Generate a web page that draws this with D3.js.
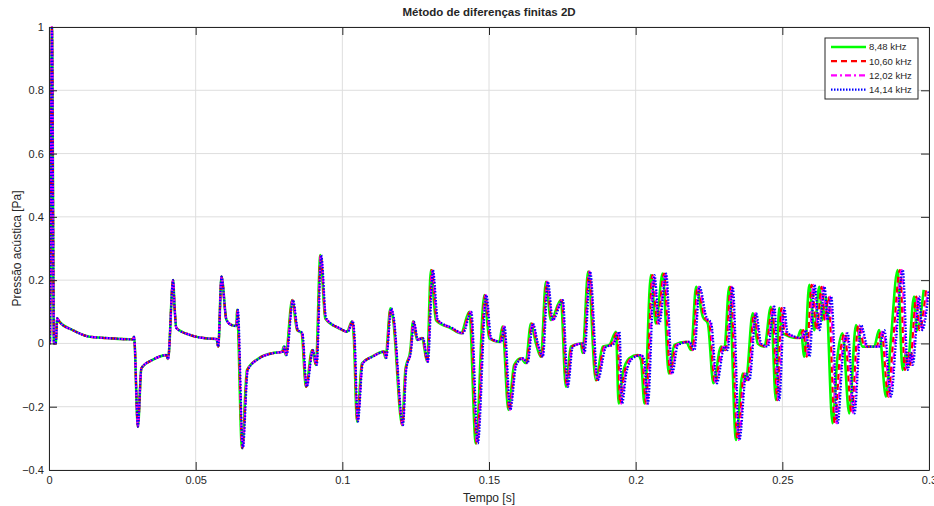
<!DOCTYPE html>
<html>
<head>
<meta charset="utf-8">
<title>Método de diferenças finitas 2D</title>
<style>
  body { margin: 0; padding: 0; background: #fff; }
  text { font-family: "Liberation Sans", Arial, sans-serif; fill: #262626; }
</style>
</head>
<body>
<div id="chart"></div>
<script src="https://d3js.org/d3.v7.min.js"></script>
<script>
// pressure values (Pa), shared sample sequence
var pressao = [
  0, 0, 1.0, 0, 0, 0.079, 0.068, 0.042, 0.021, 0.017, 0.013, 0.021, -0.263, -0.078, -0.052, -0.037, -0.049, 0.2, 0.116, 0.049,
  0.027, 0.016, 0.014, -0.01, 0.211, 0.074, 0.058, 0.055,
  0.106, -0.331, -0.084, -0.047, -0.031, -0.026, -0.01, -0.037, 0.137, 0.042, 0.033, -0.137, -0.021, -0.068, 0.279, 0.079,
  0.048, 0.037, 0.07, 0.021, -0.247, -0.063, -0.042, -0.026, -0.046, 0.111, 0.084, -0.258, -0.084, -0.021, 0.069, 0.011,
  0.017, -0.058,
  0.232, 0.074, 0.048, 0.032, 0.1, -0.316, 0.153, 0.016, 0.005, 0.053, -0.21, -0.068, -0.047, -0.062, 0.063, 0, -0.042,
  0.195, 0.074, 0.137, -0.137, -0.01, 0, -0.03, 0.227, -0.116,
  -0.01, -0.005, 0.037, -0.19, -0.095, -0.047, -0.037, -0.052, -0.19, 0.216, 0.063, 0.221, -0.095, -0.005, 0.005, -0.021,
  0.179, 0.084, 0.063, -0.126, -0.01, -0.021, 0.179, -0.305, -0.095, -0.116, 0.095, 0, -0.01, 0.116, -0.179,
  0.112, 0.033, 0.017, 0.042, -0.042, 0.185, 0.042, 0.179, 0.074, 0.148, -0.252, -0.042, 0.032, -0.221, 0.058, -0.01,
  -0.01, 0.042, -0.168, 0.011, 0.232, -0.084, -0.03, -0.068, 0.148, 0.042, 0.169
];

// time (s) of the first samples, identical for every frequency
var tempoComum = [
  0, 0.0003, 0.001, 0.0017, 0.0023, 0.0028, 0.0036, 0.0081, 0.0139, 0.0197, 0.0285, 0.029, 0.0303, 0.0315, 0.0353, 0.04,
  0.0406, 0.0423, 0.0428, 0.0434, 0.048, 0.0536, 0.0571, 0.0577, 0.0588, 0.0605, 0.0622, 0.0639
];

// later samples drift apart with frequency
var tempo848 = [
  0.0641, 0.0658, 0.0675, 0.0715, 0.076, 0.0795, 0.08, 0.0807, 0.0829, 0.0846, 0.0861, 0.0876, 0.0897, 0.091, 0.0925, 0.0942,
  0.0988, 0.1016, 0.1033, 0.1039, 0.105, 0.1067, 0.1101, 0.1141, 0.1147, 0.1164, 0.1172, 0.1204, 0.1215, 0.1232, 0.1241, 0.1255,
  0.1272, 0.1289,
  0.1302, 0.1319, 0.137, 0.1404, 0.1433, 0.1455, 0.1484, 0.1501, 0.1535, 0.1546, 0.1566, 0.1586, 0.1609, 0.1625, 0.1643, 0.166,
  0.1677, 0.1694, 0.1711, 0.1745, 0.1762, 0.1779, 0.1813, 0.1819, 0.1838, 0.1864,
  0.1888, 0.191, 0.1933, 0.1942, 0.1956, 0.1978, 0.2007, 0.2018, 0.203, 0.2052, 0.2069, 0.2092, 0.2113, 0.2132, 0.2172, 0.2189,
  0.2206, 0.2229, 0.2246, 0.2265, 0.2291, 0.2302, 0.2319, 0.2342, 0.2365, 0.2376, 0.2399, 0.2416, 0.2439, 0.2461, 0.2478,
  0.2489, 0.25, 0.2551, 0.2563, 0.2575, 0.2592, 0.2609, 0.2626, 0.2637, 0.2649, 0.2671, 0.2688, 0.2705, 0.2728, 0.2751, 0.2773,
  0.2813, 0.283, 0.2853, 0.287, 0.2893, 0.291, 0.2921, 0.2927, 0.2949, 0.2959, 0.2982
];
var tempo1060 = [
  0.0642, 0.0659, 0.0676, 0.0716, 0.0761, 0.0796, 0.0801, 0.0808, 0.083, 0.0847, 0.0862, 0.0877, 0.0898, 0.0911, 0.0926, 0.0943,
  0.0989, 0.1017, 0.1034, 0.104, 0.1051, 0.1068, 0.1102, 0.1142, 0.1148, 0.1165, 0.1173, 0.1205, 0.1216, 0.1233, 0.1242, 0.1256,
  0.1273, 0.129,
  0.1305, 0.1322, 0.1373, 0.1407, 0.1436, 0.1458, 0.1487, 0.1504, 0.1538, 0.1549, 0.1569, 0.1589, 0.1612, 0.1628, 0.1646, 0.1663,
  0.168, 0.1697, 0.1714, 0.1748, 0.1765, 0.1782, 0.1816, 0.1822, 0.1841, 0.1867,
  0.1893, 0.1915, 0.1938, 0.1947, 0.1961, 0.1983, 0.2012, 0.2023, 0.2035, 0.2057, 0.2074, 0.2097, 0.2118, 0.2137, 0.2177, 0.2194,
  0.2211, 0.2234, 0.2251, 0.227, 0.2296, 0.2307, 0.2324, 0.2347, 0.237, 0.2381, 0.2404, 0.2421, 0.2444, 0.2466, 0.2483,
  0.2497, 0.2508, 0.2559, 0.2571, 0.2583, 0.26, 0.2617, 0.2634, 0.2645, 0.2657, 0.2679, 0.2696, 0.2713, 0.2736, 0.2759, 0.2781,
  0.2821, 0.2838, 0.2861, 0.2878, 0.2901, 0.2918, 0.2929, 0.2935, 0.2957, 0.2967, 0.299
];
var tempo1202 = [
  0.0643, 0.066, 0.0677, 0.0717, 0.0762, 0.0797, 0.0802, 0.0809, 0.0831, 0.0848, 0.0863, 0.0878, 0.0899, 0.0912, 0.0927, 0.0944,
  0.099, 0.1018, 0.1035, 0.1041, 0.1052, 0.1069, 0.1103, 0.1143, 0.1149, 0.1166, 0.1174, 0.1206, 0.1217, 0.1234, 0.1243, 0.1257,
  0.1274, 0.1291,
  0.1307, 0.1324, 0.1375, 0.1409, 0.1438, 0.146, 0.1489, 0.1506, 0.154, 0.1551, 0.1571, 0.1591, 0.1614, 0.163, 0.1648, 0.1665,
  0.1682, 0.1699, 0.1716, 0.175, 0.1767, 0.1784, 0.1818, 0.1824, 0.1843, 0.1869,
  0.1897, 0.1919, 0.1942, 0.1951, 0.1965, 0.1987, 0.2016, 0.2027, 0.2039, 0.2061, 0.2078, 0.2101, 0.2122, 0.2141, 0.2181, 0.2198,
  0.2215, 0.2238, 0.2255, 0.2274, 0.23, 0.2311, 0.2328, 0.2351, 0.2374, 0.2385, 0.2408, 0.2425, 0.2448, 0.247, 0.2487,
  0.2503, 0.2514, 0.2565, 0.2577, 0.2589, 0.2606, 0.2623, 0.264, 0.2651, 0.2663, 0.2685, 0.2702, 0.2719, 0.2742, 0.2765, 0.2787,
  0.2827, 0.2844, 0.2867, 0.2884, 0.2907, 0.2924, 0.2935, 0.2941, 0.2963, 0.2973, 0.2996
];
var tempo1414 = [
  0.0644, 0.0661, 0.0678, 0.0718, 0.0763, 0.0798, 0.0803, 0.081, 0.0832, 0.0849, 0.0864, 0.0879, 0.09, 0.0913, 0.0928, 0.0945,
  0.0991, 0.1019, 0.1036, 0.1042, 0.1053, 0.107, 0.1104, 0.1144, 0.115, 0.1167, 0.1175, 0.1207, 0.1218, 0.1235, 0.1244, 0.1258,
  0.1275, 0.1292,
  0.1309, 0.1326, 0.1377, 0.1411, 0.144, 0.1462, 0.1491, 0.1508, 0.1542, 0.1553, 0.1573, 0.1593, 0.1616, 0.1632, 0.165, 0.1667,
  0.1684, 0.1701, 0.1718, 0.1752, 0.1769, 0.1786, 0.182, 0.1826, 0.1845, 0.1871,
  0.19, 0.1922, 0.1945, 0.1954, 0.1968, 0.199, 0.2019, 0.203, 0.2042, 0.2064, 0.2081, 0.2104, 0.2125, 0.2144, 0.2184, 0.2201,
  0.2218, 0.2241, 0.2258, 0.2277, 0.2303, 0.2314, 0.2331, 0.2354, 0.2377, 0.2388, 0.2411, 0.2428, 0.2451, 0.2473, 0.249,
  0.2507, 0.2518, 0.2569, 0.2581, 0.2593, 0.261, 0.2627, 0.2644, 0.2655, 0.2667, 0.2689, 0.2706, 0.2723, 0.2746, 0.2769, 0.2791,
  0.2831, 0.2848, 0.2871, 0.2888, 0.2911, 0.2928, 0.2939, 0.2945, 0.2967, 0.2977, 0.3
];

var legendas = ["8,48 kHz", "10,60 kHz", "12,02 kHz", "14,14 kHz"];
var xTicks = [0, 0.05, 0.1, 0.15, 0.2, 0.25, 0.3];
var yTicks = [-0.4, -0.2, 0, 0.2, 0.4, 0.6, 0.8, 1];

var width = 934, height = 506;
var margin = { top: 27, right: 5, bottom: 36, left: 49 };
var w = 929 - margin.left, h = 470 - margin.top;

var series = [
  { nome: legendas[0], t: tempoComum.concat(tempo848),  cor: "#00ff00", dash: null,        lw: 2.6 },
  { nome: legendas[1], t: tempoComum.concat(tempo1060), cor: "#ff0000", dash: "6,4",       lw: 2.2 },
  { nome: legendas[2], t: tempoComum.concat(tempo1202), cor: "#ff00ff", dash: "6,3,2,3",   lw: 2.2 },
  { nome: legendas[3], t: tempoComum.concat(tempo1414), cor: "#0000ff", dash: "1.5,1.5",   lw: 2.2 }
];

var svg = d3.select("#chart").append("svg")
    .attr("width", width)
    .attr("height", height);

var g = svg.append("g").attr("transform", "translate(" + margin.left + "," + margin.top + ")");

var x = d3.scaleLinear().domain([0, 0.3]).range([0, w]);
var y = d3.scaleLinear().domain([-0.4, 1]).range([h, 0]);

// grid
g.append("g").selectAll("line").data(xTicks).enter().append("line")
    .attr("x1", d => x(d)).attr("x2", d => x(d))
    .attr("y1", 0).attr("y2", h)
    .attr("stroke", "#dedede").attr("stroke-width", 1);
g.append("g").selectAll("line").data(yTicks).enter().append("line")
    .attr("x1", 0).attr("x2", w)
    .attr("y1", d => y(d)).attr("y2", d => y(d))
    .attr("stroke", "#dedede").attr("stroke-width", 1);

svg.append("clipPath").attr("id", "clip")
  .append("rect").attr("width", w).attr("height", h + 1).attr("y", -1);

var line = d3.line()
    .curve(d3.curveMonotoneX)
    .x(d => x(d[0]))
    .y(d => y(d[1]));

g.append("g").attr("clip-path", "url(#clip)")
  .selectAll("path").data(series).enter().append("path")
    .attr("d", s => line(s.t.map((t, i) => [t, pressao[i]])))
    .attr("fill", "none")
    .attr("stroke", s => s.cor)
    .attr("stroke-width", s => s.lw)
    .attr("stroke-dasharray", s => s.dash)
    .attr("stroke-linejoin", "round");

// axes, MATLAB style box with inward ticks
var fmt = d => d3.format("")(+d.toFixed(2));
var xb = g.append("g").attr("transform", "translate(0," + h + ")")
    .call(d3.axisBottom(x).tickValues(xTicks).tickSizeInner(-8).tickSizeOuter(0).tickPadding(6).tickFormat(fmt));
var xt = g.append("g")
    .call(d3.axisTop(x).tickValues(xTicks).tickSizeInner(-8).tickSizeOuter(0).tickFormat(""));
var yl = g.append("g")
    .call(d3.axisLeft(y).tickValues(yTicks).tickSizeInner(-8).tickSizeOuter(0).tickPadding(4).tickFormat(fmt));
var yr = g.append("g").attr("transform", "translate(" + w + ",0)")
    .call(d3.axisRight(y).tickValues(yTicks).tickSizeInner(-8).tickSizeOuter(0).tickFormat(""));

[xb, xt, yl, yr].forEach(function(a) {
  a.select(".domain").attr("stroke", "#262626");
  a.selectAll(".tick line").attr("stroke", "#262626");
  a.selectAll("text").attr("fill", "#262626").style("font-size", "11px")
    .style("font-family", '"Liberation Sans", Arial, sans-serif');
});
yl.selectAll(".tick text").attr("dx", "-0.1em");

// titles
svg.append("text")
    .attr("x", margin.left + w / 2).attr("y", 16)
    .attr("text-anchor", "middle")
    .style("font-size", "11.5px").style("font-weight", "bold")
    .text("Método de diferenças finitas 2D");

svg.append("text")
    .attr("x", margin.left + w / 2).attr("y", 502)
    .attr("text-anchor", "middle")
    .style("font-size", "12px")
    .text("Tempo [s]");

svg.append("text")
    .attr("transform", "translate(21," + (margin.top + h / 2) + ") rotate(-90)")
    .attr("text-anchor", "middle")
    .style("font-size", "12px")
    .text("Pressão acústica [Pa]");

// legend
var lg = svg.append("g").attr("transform", "translate(825,38)");
lg.append("rect")
    .attr("width", 93).attr("height", 61)
    .attr("fill", "#fff").attr("stroke", "#262626").attr("stroke-width", 1);

var item = lg.selectAll(".item").data(series).enter().append("g")
    .attr("class", "item")
    .attr("transform", (d, i) => "translate(0," + (9 + i * 14.2) + ")");
item.append("line")
    .attr("x1", 6).attr("x2", 41)
    .attr("stroke", d => d.cor)
    .attr("stroke-width", d => d.lw)
    .attr("stroke-dasharray", d => d.dash);
item.append("text")
    .attr("x", 44).attr("dy", "0.35em")
    .style("font-size", "9.5px")
    .text(d => d.nome);
</script>
</body>
</html>
